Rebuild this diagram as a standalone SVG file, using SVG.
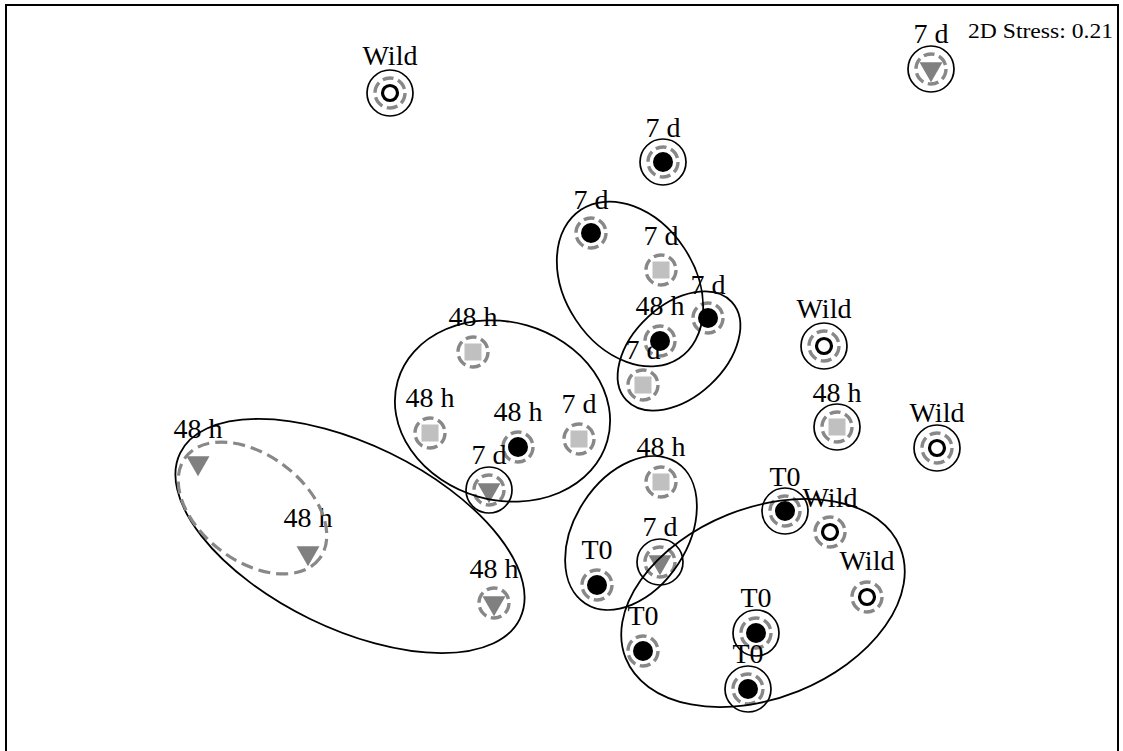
<svg xmlns="http://www.w3.org/2000/svg" width="1123" height="751" viewBox="0 0 1123 751">
<style>
.outer{fill:none;stroke:#000;stroke-width:1.7}
.ring{fill:none;stroke:#888;stroke-width:3.4;stroke-dasharray:11 4.7}
.dot{fill:#000}
.sq{fill:#c0c0c0}
.tri{fill:#808080}
.wild{fill:#fff;stroke:#000;stroke-width:3.2}
.lbl{font-family:"Liberation Serif","Times New Roman",serif;font-size:28px;text-anchor:middle;fill:#000}
.ell{fill:none;stroke:#000;stroke-width:1.8}
.dell{fill:none;stroke:#888;stroke-width:3.2;stroke-dasharray:12 6}
</style>
<defs>
<path id="triShape" d="M-11.5,-6.7 L11.5,-6.7 L0,13.3 Z"/>
</defs>
<rect width="1123" height="751" fill="#fff"/>
<rect x="6" y="5" width="1112" height="770" fill="none" stroke="#000" stroke-width="2"/>
<text x="968" y="38" font-family="Liberation Serif, serif" font-size="22" textLength="145" lengthAdjust="spacingAndGlyphs">2D Stress: 0.21</text>

<g id="nodes">
<g id="n1" transform="translate(390,93)"><circle class="outer" r="23"/><circle class="ring" r="15"/><circle class="wild" r="7.5"/><text class="lbl" y="-28">Wild</text></g>
<g id="n2" transform="translate(931,69)"><circle class="outer" r="23"/><circle class="ring" r="15"/><use href="#triShape" class="tri"/><text class="lbl" y="-26">7 d</text></g>
<g id="n3" transform="translate(663,162)"><circle class="outer" r="23"/><circle class="ring" r="15"/><circle class="dot" r="10"/><text class="lbl" y="-25">7 d</text></g>
<g id="n4" transform="translate(591,233)"><circle class="ring" r="15"/><circle class="dot" r="10"/><text class="lbl" y="-24">7 d</text></g>
<g id="n5" transform="translate(661,270)"><circle class="ring" r="15"/><rect class="sq" x="-8.5" y="-8.5" width="17" height="17"/><text class="lbl" y="-25">7 d</text></g>
<g id="n6" transform="translate(708,318)"><circle class="ring" r="15"/><circle class="dot" r="10"/><text class="lbl" y="-24">7 d</text></g>
<g id="n7" transform="translate(660,341)"><circle class="ring" r="15"/><circle class="dot" r="10"/><text class="lbl" y="-26">48 h</text></g>
<g id="n8" transform="translate(643,385)"><circle class="ring" r="15"/><rect class="sq" x="-8.5" y="-8.5" width="17" height="17"/><text class="lbl" y="-26">7 d</text></g>
<g id="n9" transform="translate(824,346)"><circle class="outer" r="23"/><circle class="ring" r="15"/><circle class="wild" r="7.5"/><text class="lbl" y="-28">Wild</text></g>
<g id="n10" transform="translate(837,427)"><circle class="outer" r="23"/><circle class="ring" r="15"/><rect class="sq" x="-8.5" y="-8.5" width="17" height="17"/><text class="lbl" y="-25">48 h</text></g>
<g id="n11" transform="translate(937,448)"><circle class="outer" r="23"/><circle class="ring" r="15"/><circle class="wild" r="7.5"/><text class="lbl" y="-26">Wild</text></g>
<g id="n12" transform="translate(473,352)"><circle class="ring" r="15"/><rect class="sq" x="-8.5" y="-8.5" width="17" height="17"/><text class="lbl" y="-26">48 h</text></g>
<g id="n13" transform="translate(430,433)"><circle class="ring" r="15"/><rect class="sq" x="-8.5" y="-8.5" width="17" height="17"/><text class="lbl" y="-26">48 h</text></g>
<g id="n14" transform="translate(518,447)"><circle class="ring" r="15"/><circle class="dot" r="10"/><text class="lbl" y="-26">48 h</text></g>
<g id="n15" transform="translate(579,439)"><circle class="ring" r="15"/><rect class="sq" x="-8.5" y="-8.5" width="17" height="17"/><text class="lbl" y="-26">7 d</text></g>
<g id="n16" transform="translate(489,490)"><circle class="outer" r="23"/><circle class="ring" r="15"/><use href="#triShape" class="tri"/><text class="lbl" y="-26">7 d</text></g>
<g id="n17" transform="translate(198,463)"><use href="#triShape" class="tri"/><text class="lbl" y="-25">48 h</text></g>
<g id="n18" transform="translate(308,553)"><use href="#triShape" class="tri"/><text class="lbl" y="-26">48 h</text></g>
<g id="n19" transform="translate(494,603)"><circle class="ring" r="15"/><use href="#triShape" class="tri"/><text class="lbl" y="-25">48 h</text></g>
<g id="n20" transform="translate(661,482)"><circle class="ring" r="15"/><rect class="sq" x="-8.5" y="-8.5" width="17" height="17"/><text class="lbl" y="-26">48 h</text></g>
<g id="n21" transform="translate(660,562)"><circle class="outer" r="23"/><circle class="ring" r="15"/><use href="#triShape" class="tri"/><text class="lbl" y="-26">7 d</text></g>
<g id="n22" transform="translate(597,585)"><circle class="ring" r="15"/><circle class="dot" r="10"/><text class="lbl" y="-26">T0</text></g>
<g id="n23" transform="translate(785,511)"><circle class="outer" r="23"/><circle class="ring" r="15"/><circle class="dot" r="10"/><text class="lbl" y="-25">T0</text></g>
<g id="n24" transform="translate(830,532)"><circle class="ring" r="15"/><circle class="wild" r="7.5"/><text class="lbl" y="-25">Wild</text></g>
<g id="n25" transform="translate(867,597)"><circle class="ring" r="15"/><circle class="wild" r="7.5"/><text class="lbl" y="-27">Wild</text></g>
<g id="n26" transform="translate(643,651)"><circle class="ring" r="15"/><circle class="dot" r="10"/><text class="lbl" y="-26">T0</text></g>
<g id="n27" transform="translate(756,633)"><circle class="outer" r="23"/><circle class="ring" r="15"/><circle class="dot" r="10"/><text class="lbl" y="-26">T0</text></g>
<g id="n28" transform="translate(748,689)"><circle class="outer" r="23"/><circle class="ring" r="15"/><circle class="dot" r="10"/><text class="lbl" y="-26">T0</text></g>
</g>

<g id="clusters">
<ellipse class="ell" cx="630" cy="284" rx="89" ry="65" transform="rotate(56.5 630 284)"/>
<ellipse class="ell" cx="679" cy="351" rx="72" ry="46" transform="rotate(-43 679 351)"/>
<ellipse class="ell" cx="502.5" cy="411" rx="109" ry="89" transform="rotate(16 502.5 411)"/>
<ellipse class="ell" cx="350" cy="536" rx="189" ry="92" transform="rotate(26 350 536)"/>
<ellipse class="dell" cx="252.5" cy="508" rx="84" ry="53" transform="rotate(37 252.5 508)"/>
<ellipse class="ell" cx="631" cy="533" rx="84" ry="56.5" transform="rotate(-57 631 533)"/>
<ellipse class="ell" cx="763" cy="603" rx="148" ry="95" transform="rotate(-22 763 603)"/>
</g>
</svg>
